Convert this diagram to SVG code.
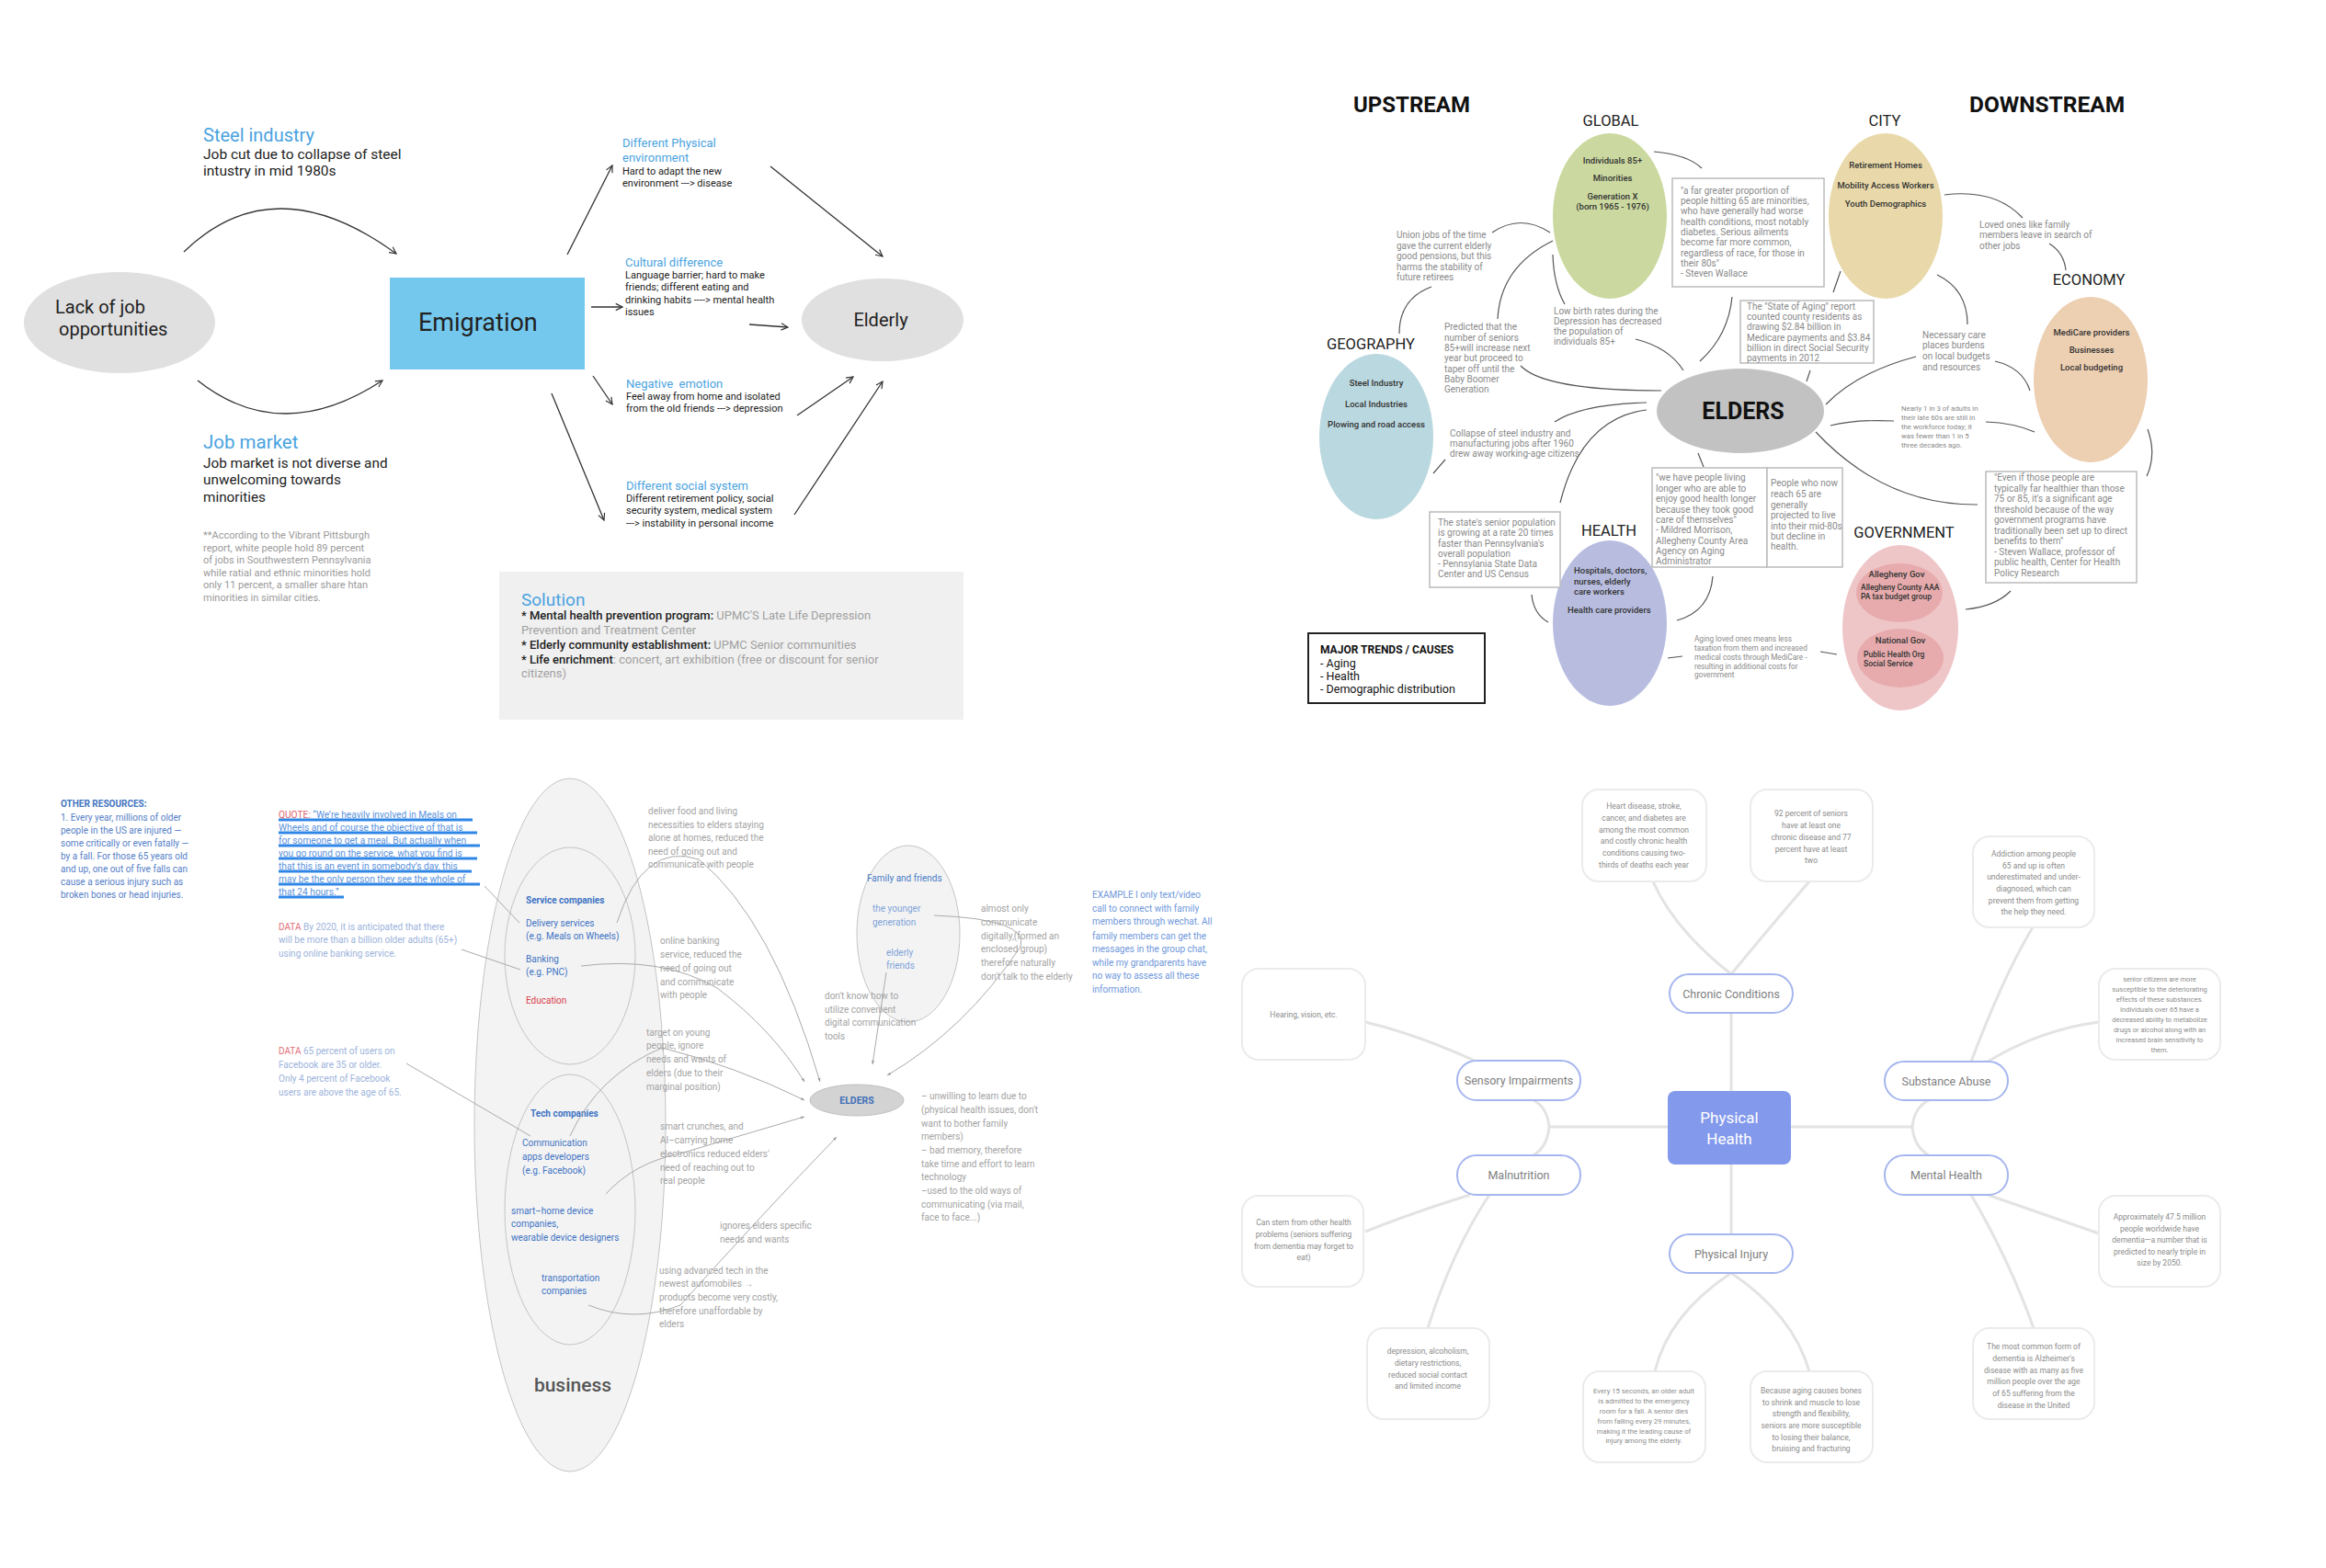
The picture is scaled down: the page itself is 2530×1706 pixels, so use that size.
<svg xmlns="http://www.w3.org/2000/svg" width="2530" height="1706" viewBox="0 0 2530 1706">
<defs>
<style>
text{font-family:Roboto,'Liberation Sans',sans-serif;}
.blk{fill:#222}
.ttl{fill:#4aa3df}
.gr{fill:#9a9a9a}
.q{fill:#8a8a8a;font-size:10px}
.qs{fill:#8a8a8a;font-size:7.8px}
.lab{fill:#222;font-size:16.5px;text-anchor:middle}
.in{fill:#333;font-size:9.5px;font-weight:500;text-anchor:middle}
.cn{fill:none;stroke:#555;stroke-width:1.2}
.ar{fill:none;stroke:#333;stroke-width:1.3;marker-end:url(#ah)}
.bl{fill:none;stroke:#aaa;stroke-width:1}
.bla{fill:none;stroke:#aaa;stroke-width:1;marker-end:url(#ahs)}
.mm{fill:none;stroke:#e3e3e3;stroke-width:3}
.node{fill:#fff;stroke:#a5b6ef;stroke-width:2}
.leaf{fill:#fff;stroke:#ebebeb;stroke-width:2}
.nl{fill:#808080;font-size:12.5px;text-anchor:middle}
.ll{fill:#8c8c8c;font-size:8.5px;text-anchor:middle}
.ls{fill:#8c8c8c;font-size:7.7px;text-anchor:middle}
.bt{fill:#a3a3a3;font-size:10px}
.bb{fill:#3f73c4;font-size:10px}
.lb{fill:#7fa3d9;font-size:10px}
.box{fill:#fff;stroke:#bbb;stroke-width:1.5}
.bz{fill:none;stroke:#c4c4c4;stroke-width:1}
</style>
<marker id="ah" viewBox="0 0 10 10" refX="9" refY="5" markerWidth="7" markerHeight="7" orient="auto"><path d="M1,1 L9,5 L1,9" fill="none" stroke="#333" stroke-width="1.3"/></marker>
<marker id="ahs" viewBox="0 0 10 10" refX="9" refY="5" markerWidth="5" markerHeight="5" orient="auto"><path d="M1,2 L9,5 L1,8 Z" fill="#999"/></marker>
</defs>
<rect width="2530" height="1706" fill="#fff"/>

<!-- ================= TOP-LEFT ================= -->
<g id="lack-of-job">
<ellipse cx="130" cy="351" rx="104" ry="55" fill="#e0e0e0"/>
<text class="blk" font-size="20"><tspan x="60" y="341">Lack of job</tspan><tspan x="64" y="365">opportunities</tspan></text>
</g>
<g id="emigration">
<rect x="424" y="302" width="212" height="100" fill="#74c8ee"/>
<text x="455" y="360" font-size="27" class="blk">Emigration</text>
</g>
<g id="elderly">
<ellipse cx="960" cy="348" rx="88" ry="45" fill="#e0e0e0"/>
<text x="958" y="355" font-size="20" text-anchor="middle" class="blk">Elderly</text>
</g>
<g id="steel-industry">
<text x="221" y="154" font-size="20" class="ttl">Steel industry</text>
<text class="blk" font-size="15.5"><tspan x="221" y="173">Job cut due to collapse of steel</tspan><tspan x="221" y="191">intustry in mid 1980s</tspan></text>
</g>
<g id="job-market">
<text x="221" y="488" font-size="20.5" class="ttl">Job market</text>
<text class="blk" font-size="15.3"><tspan x="221" y="509">Job market is not diverse and</tspan><tspan x="221" y="527">unwelcoming towards</tspan><tspan x="221" y="546">minorities</tspan></text>
<text class="gr" font-size="11"><tspan x="221" y="586">**According to the Vibrant Pittsburgh</tspan><tspan x="221" y="599.5">report, white people hold 89 percent</tspan><tspan x="221" y="613">of jobs in Southwestern Pennsylvania</tspan><tspan x="221" y="626.5">while ratial and ethnic minorities hold</tspan><tspan x="221" y="640">only 11 percent, a smaller share htan</tspan><tspan x="221" y="653.5">minorities in similar cities.</tspan></text>
</g>
<g id="physical-environment">
<text class="ttl" font-size="13"><tspan x="677" y="160">Different Physical</tspan><tspan x="677" y="176">environment</tspan></text>
<text class="blk" font-size="11"><tspan x="677" y="190">Hard to adapt the new</tspan><tspan x="677" y="203">environment ---&gt; disease</tspan></text>
</g>
<g id="cultural-difference">
<text x="680" y="290" class="ttl" font-size="13">Cultural difference</text>
<text class="blk" font-size="11"><tspan x="680" y="303">Language barrier; hard to make</tspan><tspan x="680" y="316">friends; different eating and</tspan><tspan x="680" y="330">drinking habits ----&gt; mental health</tspan><tspan x="680" y="343">issues</tspan></text>
</g>
<g id="negative-emotion">
<text x="681" y="422" class="ttl" font-size="13" xml:space="preserve">Negative  emotion</text>
<text class="blk" font-size="11"><tspan x="681" y="435">Feel away from home and isolated</tspan><tspan x="681" y="448">from the old friends ---&gt; depression</tspan></text>
</g>
<g id="social-system">
<text x="681" y="533" class="ttl" font-size="13">Different social system</text>
<text class="blk" font-size="11"><tspan x="681" y="546">Different retirement policy, social</tspan><tspan x="681" y="559">security system, medical system</tspan><tspan x="681" y="573">---&gt; instability in personal income</tspan></text>
</g>
<g id="solution">
<rect x="543" y="622" width="505" height="161" fill="#f0f0f0"/>
<text x="567" y="659" class="ttl" font-size="19">Solution</text>
<text font-size="13"><tspan x="567" y="674" fill="#222" font-weight="500">* Mental health prevention program: </tspan><tspan fill="#a0a0a0">UPMC'S Late Life Depression</tspan><tspan x="567" y="690" fill="#a0a0a0">Prevention and Treatment Center</tspan><tspan x="567" y="706" fill="#222" font-weight="500">* Elderly community establishment: </tspan><tspan fill="#a0a0a0">UPMC Senior communities</tspan><tspan x="567" y="722" fill="#222" font-weight="500">* Life enrichment</tspan><tspan fill="#a0a0a0">: concert, art exhibition (free or discount for senior</tspan><tspan x="567" y="737" fill="#a0a0a0">citizens)</tspan></text>
</g>
<g id="connectors-top-left">
<path class="ar" d="M200,274 Q298,179 431,276"/>
<path class="ar" d="M215,414 Q306,486 416,414"/>
<path class="ar" d="M617,277 L666,180"/>
<path class="ar" d="M838,181 L960,279"/>
<path class="ar" d="M643,334 L677,334"/>
<path class="ar" d="M815,353 L857,356"/>
<path class="ar" d="M645,409 L666,440"/>
<path class="ar" d="M867,452 L928,410"/>
<path class="ar" d="M600,428 L657,566"/>
<path class="ar" d="M864,560 L960,415"/>
</g>

<!-- ================= TOP-RIGHT ================= -->
<text x="1472" y="122" font-size="24" font-weight="bold" fill="#111">UPSTREAM</text>
<text x="2142" y="122" font-size="24.5" font-weight="bold" fill="#111">DOWNSTREAM</text>
<g id="connectors-top-right">
<path class="cn" d="M1799,165 Q1835,168 1851,183"/>
<path class="cn" d="M1623,253 Q1654,232 1686,253"/>
<path class="cn" d="M1557,312 Q1522,325 1522,363"/>
<path class="cn" d="M1629,347 Q1632,290 1689,262"/>
<path class="cn" d="M1702,331 Q1690,310 1689,277"/>
<path class="cn" d="M1654,398 Q1680,425 1807,425"/>
<path class="cn" d="M1779,369 Q1815,378 1831,403"/>
<path class="cn" d="M1884,323 Q1880,365 1849,393"/>
<path class="cn" d="M1969,403 L1965,415"/>
<path class="cn" d="M1691,459 Q1720,440 1791,438"/>
<path class="cn" d="M1791,446 Q1720,455 1697,547"/>
<path class="cn" d="M1572,500 L1559,515"/>
<path class="cn" d="M1666,647 Q1668,668 1684,677"/>
<path class="cn" d="M1847,493 L1853,508"/>
<path class="cn" d="M1863,627 Q1860,665 1824,675"/>
<path class="cn" d="M1830,714 L1814,716"/>
<path class="cn" d="M1980,709 L1998,712"/>
<path class="cn" d="M2187,643 Q2170,660 2138,663"/>
<path class="cn" d="M1975,470 Q2050,550 2151,549"/>
<path class="cn" d="M2336,467 Q2346,495 2335,518"/>
<path class="cn" d="M2115,212 Q2170,205 2200,237"/>
<path class="cn" d="M2229,265 Q2245,275 2247,294"/>
<path class="cn" d="M2107,299 Q2140,315 2140,353"/>
<path class="cn" d="M2084,388 Q2020,405 1986,440"/>
<path class="cn" d="M2170,393 Q2200,400 2208,425"/>
<path class="cn" d="M1991,463 Q2020,456 2060,458"/>
<path class="cn" d="M2160,459 Q2190,460 2213,470"/>
<path class="cn" d="M2002,295 L1994,318"/>
</g>
<g id="global">
<text x="1752" y="137" class="lab">GLOBAL</text>
<ellipse cx="1751" cy="235" rx="62" ry="90" fill="#cbd9a0"/>
<text class="in"><tspan x="1754" y="178">Individuals 85+</tspan><tspan x="1754" y="197">Minorities</tspan><tspan x="1754" y="217">Generation X</tspan><tspan x="1754" y="228">(born 1965 - 1976)</tspan></text>
</g>
<g id="city">
<text x="2050" y="137" class="lab">CITY</text>
<ellipse cx="2051" cy="235" rx="62" ry="90" fill="#e9d9aa"/>
<text class="in"><tspan x="2051" y="183">Retirement Homes</tspan><tspan x="2051" y="205">Mobility Access Workers</tspan><tspan x="2051" y="225">Youth Demographics</tspan></text>
</g>
<g id="economy">
<text x="2272" y="310" class="lab">ECONOMY</text>
<ellipse cx="2274" cy="413" rx="62" ry="90" fill="#edcfb2"/>
<text class="in"><tspan x="2275" y="365">MediCare providers</tspan><tspan x="2275" y="384">Businesses</tspan><tspan x="2275" y="403">Local budgeting</tspan></text>
</g>
<g id="geography">
<text x="1491" y="380" class="lab">GEOGRAPHY</text>
<ellipse cx="1497" cy="475" rx="62" ry="90" fill="#bad8df"/>
<text class="in"><tspan x="1497" y="420">Steel Industry</tspan><tspan x="1497" y="443">Local Industries</tspan><tspan x="1497" y="465">Plowing and road access</tspan></text>
</g>
<g id="health">
<text x="1750" y="583" class="lab">HEALTH</text>
<ellipse cx="1751" cy="678" rx="62" ry="90" fill="#b8bde0"/>
<text class="in" text-anchor="start" style="text-anchor:start"><tspan x="1712" y="624">Hospitals, doctors,</tspan><tspan x="1712" y="635.5">nurses, elderly</tspan><tspan x="1712" y="647">care workers</tspan><tspan x="1705" y="667">Health care providers</tspan></text>
</g>
<g id="government">
<text x="2071" y="585" class="lab">GOVERNMENT</text>
<ellipse cx="2067" cy="683" rx="63" ry="90" fill="#efc6c8"/>
<ellipse cx="2066" cy="645" rx="47" ry="32" fill="#e7abad"/>
<ellipse cx="2067" cy="716" rx="47" ry="32" fill="#e7abad"/>
<text x="2063" y="628" class="in" font-size="10">Allegheny Gov</text>
<text fill="#333" font-size="8.5" font-weight="500"><tspan x="2024" y="642">Allegheny County AAA</tspan><tspan x="2024" y="652">PA tax budget group</tspan></text>
<text x="2067" y="700" class="in" font-size="10">National Gov</text>
<text fill="#333" font-size="8.5" font-weight="500"><tspan x="2027" y="715">Public Health Org</tspan><tspan x="2027" y="725">Social Service</tspan></text>
</g>
<g id="elders-main">
<ellipse cx="1893" cy="447" rx="91" ry="46" fill="#c2c2c2"/>
<text x="1896" y="456" font-size="25" font-weight="bold" fill="#111" text-anchor="middle">ELDERS</text>
</g>
<g id="quote-wallace">
<rect class="box" x="1819" y="194" width="165" height="118"/>
<text class="q"><tspan x="1828" y="211">"a far greater proportion of</tspan><tspan x="1828" y="222">people hitting 65 are minorities,</tspan><tspan x="1828" y="233">who have generally had worse</tspan><tspan x="1828" y="244.5">health conditions, most notably</tspan><tspan x="1828" y="256">diabetes. Serious ailments</tspan><tspan x="1828" y="267">become far more common,</tspan><tspan x="1828" y="278.5">regardless of race, for those in</tspan><tspan x="1828" y="289.5">their 80s"</tspan><tspan x="1828" y="301">- Steven Wallace</tspan></text>
</g>
<g id="state-of-aging">
<rect class="box" x="1893" y="327" width="145" height="68"/>
<text class="q"><tspan x="1900" y="337">The "State of Aging" report</tspan><tspan x="1900" y="348">counted county residents as</tspan><tspan x="1900" y="359">drawing $2.84 billion in</tspan><tspan x="1900" y="371">Medicare payments and $3.84</tspan><tspan x="1900" y="382">billion in direct Social Security</tspan><tspan x="1900" y="393">payments in 2012</tspan></text>
</g>
<g id="senior-population">
<rect class="box" x="1555" y="557" width="142" height="82"/>
<text class="q"><tspan x="1564" y="572">The state's senior population</tspan><tspan x="1564" y="583">is growing at a rate 20 times</tspan><tspan x="1564" y="594.5">faster than Pennsylvania's</tspan><tspan x="1564" y="605.5">overall population</tspan><tspan x="1564" y="617">- Pennsylania State Data</tspan><tspan x="1564" y="628">Center and US Census</tspan></text>
</g>
<g id="quote-morrison">
<rect class="box" x="1797" y="509" width="125" height="108"/>
<text class="q"><tspan x="1801" y="523">"we have people living</tspan><tspan x="1801" y="534.5">longer who are able to</tspan><tspan x="1801" y="546">enjoy good health longer</tspan><tspan x="1801" y="557.5">because they took good</tspan><tspan x="1801" y="569">care of themselves"</tspan><tspan x="1801" y="580">- Mildred Morrison,</tspan><tspan x="1801" y="591.5">Allegheny County Area</tspan><tspan x="1801" y="603">Agency on Aging</tspan><tspan x="1801" y="614">Administrator</tspan></text>
</g>
<g id="people-65">
<rect class="box" x="1922" y="509" width="82" height="108"/>
<text class="q"><tspan x="1926" y="529">People who now</tspan><tspan x="1926" y="541">reach 65 are</tspan><tspan x="1926" y="553">generally</tspan><tspan x="1926" y="564">projected to live</tspan><tspan x="1926" y="576">into their mid-80s</tspan><tspan x="1926" y="587">but decline in</tspan><tspan x="1926" y="598">health.</tspan></text>
</g>
<g id="quote-wallace-2">
<rect class="box" x="2160" y="513" width="164" height="121"/>
<text class="q"><tspan x="2169" y="523">"Even if those people are</tspan><tspan x="2169" y="534.5">typically far healthier than those</tspan><tspan x="2169" y="546">75 or 85, it's a significant age</tspan><tspan x="2169" y="557.5">threshold because of the way</tspan><tspan x="2169" y="569">government programs have</tspan><tspan x="2169" y="580.5">traditionally been set up to direct</tspan><tspan x="2169" y="592">benefits to them"</tspan><tspan x="2169" y="603.5">- Steven Wallace, professor of</tspan><tspan x="2169" y="615">public health, Center for Health</tspan><tspan x="2169" y="626.5">Policy Research</tspan></text>
</g>
<g id="notes-top-right">
<text class="q"><tspan x="1519" y="259">Union jobs of the time</tspan><tspan x="1519" y="271">gave the current elderly</tspan><tspan x="1519" y="282">good pensions, but this</tspan><tspan x="1519" y="294">harms the stability of</tspan><tspan x="1519" y="305">future retirees</tspan></text>
<text class="q"><tspan x="1571" y="359">Predicted that the</tspan><tspan x="1571" y="371">number of seniors</tspan><tspan x="1571" y="382">85+will increase next</tspan><tspan x="1571" y="393">year but proceed to</tspan><tspan x="1571" y="405">taper off until the</tspan><tspan x="1571" y="416">Baby Boomer</tspan><tspan x="1571" y="427">Generation</tspan></text>
<text class="q"><tspan x="1690" y="342">Low birth rates during the</tspan><tspan x="1690" y="353">Depression has decreased</tspan><tspan x="1690" y="364">the population of</tspan><tspan x="1690" y="375">individuals 85+</tspan></text>
<text class="q"><tspan x="1577" y="475">Collapse of steel industry and</tspan><tspan x="1577" y="486">manufacturing jobs after 1960</tspan><tspan x="1577" y="497">drew away working-age citizens</tspan></text>
<text class="q"><tspan x="2153" y="248">Loved ones like family</tspan><tspan x="2153" y="259">members leave in search of</tspan><tspan x="2153" y="271">other jobs</tspan></text>
<text class="q"><tspan x="2091" y="368">Necessary care</tspan><tspan x="2091" y="379">places burdens</tspan><tspan x="2091" y="391">on local budgets</tspan><tspan x="2091" y="403">and resources</tspan></text>
<text class="qs" font-size="7.5"><tspan x="2068" y="447">Nearly 1 in 3 of adults in</tspan><tspan x="2068" y="456.5">their late 60s are still in</tspan><tspan x="2068" y="466.5">the workforce today; it</tspan><tspan x="2068" y="476.5">was fewer than 1 in 5</tspan><tspan x="2068" y="486.5">three decades ago.</tspan></text>
<text class="qs" style="font-size:8.2px"><tspan x="1843" y="698">Aging loved ones means less</tspan><tspan x="1843" y="708">taxation from them and increased</tspan><tspan x="1843" y="718">medical costs through MediCare -</tspan><tspan x="1843" y="727.5">resulting in additional costs for</tspan><tspan x="1843" y="737">government</tspan></text>
</g>
<g id="major-trends">
<rect x="1423" y="689" width="192" height="76" fill="#fff" stroke="#222" stroke-width="2"/>
<text x="1436" y="711" font-size="12" font-weight="bold" fill="#111">MAJOR TRENDS / CAUSES</text>
<text font-size="12.5" fill="#111"><tspan x="1436" y="725.5">- Aging</tspan><tspan x="1436" y="739.5">- Health</tspan><tspan x="1436" y="754">- Demographic distribution</tspan></text>
</g>

<!-- ================= BOTTOM-LEFT ================= -->
<g id="other-resources">
<text x="66" y="878" font-size="10" font-weight="bold" fill="#4274c0">OTHER RESOURCES:</text>
<text font-size="10" fill="#5580c8"><tspan x="66" y="893">1. Every year, millions of older</tspan><tspan x="66" y="907">people in the US are injured —</tspan><tspan x="66" y="921">some critically or even fatally —</tspan><tspan x="66" y="935">by a fall. For those 65 years old</tspan><tspan x="66" y="949">and up, one out of five falls can</tspan><tspan x="66" y="963">cause a serious injury such as</tspan><tspan x="66" y="977">broken bones or head injuries.</tspan></text>
</g>
<g id="quote-meals">
<g stroke="#2f86e6" stroke-width="3">
<line x1="303" y1="892" x2="514" y2="892"/><line x1="303" y1="906" x2="519" y2="906"/><line x1="303" y1="920" x2="522" y2="920"/><line x1="303" y1="934" x2="519" y2="934"/><line x1="303" y1="948" x2="513" y2="948"/><line x1="303" y1="962" x2="522" y2="962"/><line x1="303" y1="976" x2="374" y2="976"/>
</g>
<text font-size="10.2" fill="#5b93dd"><tspan x="303" y="890" fill="#e0606a">QUOTE: </tspan><tspan>“We’re heavily involved in Meals on</tspan><tspan x="303" y="904">Wheels and of course the objective of that is</tspan><tspan x="303" y="918">for someone to get a meal. But actually when</tspan><tspan x="303" y="932">you go round on the service, what you find is</tspan><tspan x="303" y="946">that this is an event in somebody’s day, this</tspan><tspan x="303" y="960">may be the only person they see the whole of</tspan><tspan x="303" y="974">that 24 hours.”</tspan></text>
</g>
<g id="data-banking">
<text font-size="10" fill="#9db3dc"><tspan x="303" y="1012" fill="#e07078">DATA</tspan><tspan> By 2020, it is anticipated that there</tspan><tspan x="303" y="1026">will be more than a billion older adults (65+)</tspan><tspan x="303" y="1041">using online banking service.</tspan></text>
</g>
<g id="data-facebook">
<text font-size="10" fill="#9db3dc"><tspan x="303" y="1147" fill="#e07078">DATA</tspan><tspan> 65 percent of users on</tspan><tspan x="303" y="1162">Facebook are 35 or older.</tspan><tspan x="303" y="1177">Only 4 percent of Facebook</tspan><tspan x="303" y="1192">users are above the age of 65.</tspan></text>
</g>
<g id="business">
<ellipse cx="620" cy="1224" rx="104" ry="377" fill="#f3f3f3" stroke="#c4c4c4" stroke-width="1"/>
<text x="623" y="1514" font-size="21" font-weight="500" fill="#555" text-anchor="middle">business</text>
</g>
<g id="service-companies">
<ellipse class="bz" cx="620" cy="1040" rx="71" ry="118"/>
<text x="572" y="983" class="bb" font-weight="bold">Service companies</text>
<text class="bb"><tspan x="572" y="1008">Delivery services</tspan><tspan x="572" y="1022">(e.g. Meals on Wheels)</tspan><tspan x="572" y="1047">Banking</tspan><tspan x="572" y="1061">(e.g. PNC)</tspan></text>
<text x="572" y="1092" font-size="10" fill="#d9404c">Education</text>
</g>
<g id="tech-companies">
<ellipse class="bz" cx="620" cy="1316" rx="71" ry="147"/>
<text x="577" y="1215" class="bb" font-weight="bold">Tech companies</text>
<text class="bb"><tspan x="568" y="1247">Communication</tspan><tspan x="568" y="1262">apps developers</tspan><tspan x="568" y="1277">(e.g. Facebook)</tspan><tspan x="556" y="1321">smart–home device</tspan><tspan x="556" y="1335">companies,</tspan><tspan x="556" y="1350">wearable device designers</tspan><tspan x="589" y="1394">transportation</tspan><tspan x="589" y="1408">companies</tspan></text>
</g>
<g id="family-friends">
<ellipse cx="988" cy="1016" rx="56" ry="96" fill="#f3f3f3" stroke="#c4c4c4" stroke-width="1"/>
<text x="943" y="959" font-size="10" fill="#4a7cc8">Family and friends</text>
<text class="lb"><tspan x="949" y="992">the younger</tspan><tspan x="949" y="1007">generation</tspan><tspan x="964" y="1040">elderly</tspan><tspan x="964" y="1054">friends</tspan></text>
</g>
<g id="elders-small">
<ellipse cx="932" cy="1197" rx="51" ry="17" fill="#d3d3d3" stroke="#c0c0c0" stroke-width="1"/>
<text x="932" y="1201" font-size="10.5" font-weight="bold" fill="#3f6fb8" text-anchor="middle">ELDERS</text>
</g>
<g id="connectors-bottom-left">
<path class="bl" d="M527,964 L565,1004"/>
<path class="bl" d="M502,1033 L566,1055"/>
<path class="bl" d="M442,1157 L577,1236"/>
<path class="bla" d="M671,1004 Q700,915 760,935 Q840,1000 892,1177"/>
<path class="bla" d="M632,1051 Q720,1040 780,1075 Q840,1120 875,1177"/>
<path class="bla" d="M620,1236 Q650,1170 720,1140 Q800,1160 875,1197"/>
<path class="bla" d="M659,1299 Q690,1265 740,1255 L875,1215"/>
<path class="bla" d="M640,1420 Q690,1440 740,1420 Q830,1320 910,1237"/>
<path class="bla" d="M964,1058 L949,1158"/>
<path class="bla" d="M1016,996 Q1120,1000 1110,1030 Q1050,1120 965,1170"/>
</g>
<g id="notes-bottom-left">
<text class="bt"><tspan x="705" y="886">deliver food and living</tspan><tspan x="705" y="900.5">necessities to elders staying</tspan><tspan x="705" y="915">alone at homes, reduced the</tspan><tspan x="705" y="929.5">need of going out and</tspan><tspan x="705" y="944">communicate with people</tspan></text>
<text class="bt"><tspan x="718" y="1027">online banking</tspan><tspan x="718" y="1042">service, reduced the</tspan><tspan x="718" y="1057">need of going out</tspan><tspan x="718" y="1072">and communicate</tspan><tspan x="718" y="1086">with people</tspan></text>
<text class="bt"><tspan x="703" y="1127">target on young</tspan><tspan x="703" y="1141">people, ignore</tspan><tspan x="703" y="1156">needs and wants of</tspan><tspan x="703" y="1171">elders (due to their</tspan><tspan x="703" y="1186">marginal position)</tspan></text>
<text class="bt"><tspan x="718" y="1229">smart crunches, and</tspan><tspan x="718" y="1244">AI–carrying home</tspan><tspan x="718" y="1259">electronics reduced elders'</tspan><tspan x="718" y="1274">need of reaching out to</tspan><tspan x="718" y="1288">real people</tspan></text>
<text class="bt"><tspan x="783" y="1337">ignores elders specific</tspan><tspan x="783" y="1352">needs and wants</tspan></text>
<text class="bt"><tspan x="717" y="1386">using advanced tech in the</tspan><tspan x="717" y="1400">newest automobiles →</tspan><tspan x="717" y="1415">products become very costly,</tspan><tspan x="717" y="1430">therefore unaffordable by</tspan><tspan x="717" y="1444">elders</tspan></text>
<text class="bt"><tspan x="897" y="1087">don't know how to</tspan><tspan x="897" y="1101.5">utilize convenient</tspan><tspan x="897" y="1116">digital communication</tspan><tspan x="897" y="1131">tools</tspan></text>
<text class="bt"><tspan x="1067" y="992">almost only</tspan><tspan x="1067" y="1007">communicate</tspan><tspan x="1067" y="1022">digitally,(formed an</tspan><tspan x="1067" y="1036">enclosed group)</tspan><tspan x="1067" y="1051">therefore naturally</tspan><tspan x="1067" y="1066">don't talk to the elderly</tspan></text>
<text class="lb" style="fill:#6f98dc"><tspan x="1188" y="977">EXAMPLE I only text/video</tspan><tspan x="1188" y="992">call to connect with family</tspan><tspan x="1188" y="1006">members through wechat. All</tspan><tspan x="1188" y="1022">family members can get the</tspan><tspan x="1188" y="1036">messages in the group chat,</tspan><tspan x="1188" y="1051">while my grandparents have</tspan><tspan x="1188" y="1065">no way to assess all these</tspan><tspan x="1188" y="1080">information.</tspan></text>
<text class="bt"><tspan x="1002" y="1196">– unwilling to learn due to</tspan><tspan x="1002" y="1211">(physical health issues, don't</tspan><tspan x="1002" y="1226">want to bother family</tspan><tspan x="1002" y="1240">members)</tspan><tspan x="1002" y="1255">– bad memory, therefore</tspan><tspan x="1002" y="1270">take time and effort to learn</tspan><tspan x="1002" y="1284">technology</tspan><tspan x="1002" y="1299">–used to the old ways of</tspan><tspan x="1002" y="1314">communicating (via mail,</tspan><tspan x="1002" y="1328">face to face...)</tspan></text>
</g>

<!-- ================= BOTTOM-RIGHT ================= -->
<g id="connectors-mindmap">
<path class="mm" d="M1883,1102 L1883,1187"/>
<path class="mm" d="M1883,1267 L1883,1343"/>
<path class="mm" d="M1814,1226 L1685,1226"/>
<path class="mm" d="M1685,1226 Q1683,1205 1668,1197"/>
<path class="mm" d="M1685,1226 Q1683,1248 1668,1257"/>
<path class="mm" d="M1948,1226 L2080,1226"/>
<path class="mm" d="M2080,1226 Q2082,1205 2098,1197"/>
<path class="mm" d="M2080,1226 Q2082,1248 2098,1257"/>
<path class="mm" d="M1883,1060 Q1820,1010 1798,959"/>
<path class="mm" d="M1883,1060 Q1924,1010 1968,959"/>
<path class="mm" d="M1604,1154 Q1540,1125 1485,1112"/>
<path class="mm" d="M2144,1155 Q2180,1060 2211,1009"/>
<path class="mm" d="M2162,1155 Q2220,1120 2283,1112"/>
<path class="mm" d="M1599,1300 Q1540,1318 1485,1340"/>
<path class="mm" d="M1620,1300 Q1580,1360 1553,1445"/>
<path class="mm" d="M1883,1385 Q1815,1430 1800,1492"/>
<path class="mm" d="M1883,1385 Q1950,1430 1968,1492"/>
<path class="mm" d="M2162,1300 Q2220,1320 2283,1342"/>
<path class="mm" d="M2144,1300 Q2185,1370 2212,1445"/>
</g>
<g id="physical-health">
<rect x="1814" y="1187" width="134" height="80" rx="8" fill="#8399ec"/>
<text font-size="17" fill="#fff" text-anchor="middle"><tspan x="1881" y="1222">Physical</tspan><tspan x="1881" y="1245">Health</tspan></text>
</g>
<g id="chronic-conditions"><rect class="node" x="1816" y="1060" width="134" height="42" rx="21"/><text class="nl" x="1883" y="1086">Chronic Conditions</text></g>
<g id="sensory-impairments"><rect class="node" x="1585" y="1154" width="134" height="43" rx="21"/><text class="nl" x="1652" y="1180">Sensory Impairments</text></g>
<g id="substance-abuse"><rect class="node" x="2050" y="1155" width="134" height="42" rx="21"/><text class="nl" x="2117" y="1181">Substance Abuse</text></g>
<g id="malnutrition"><rect class="node" x="1585" y="1257" width="134" height="43" rx="21"/><text class="nl" x="1652" y="1283">Malnutrition</text></g>
<g id="mental-health"><rect class="node" x="2050" y="1257" width="134" height="43" rx="21"/><text class="nl" x="2117" y="1283">Mental Health</text></g>
<g id="physical-injury"><rect class="node" x="1816" y="1343" width="134" height="42" rx="21"/><text class="nl" x="1883" y="1369">Physical Injury</text></g>
<g id="leaf-heart-disease"><rect class="leaf" x="1721" y="859" width="135" height="100" rx="18"/><text class="ll"><tspan x="1788" y="880">Heart disease, stroke,</tspan><tspan x="1788" y="893">cancer, and diabetes are</tspan><tspan x="1788" y="905.5">among the most common</tspan><tspan x="1788" y="918">and costly chronic health</tspan><tspan x="1788" y="931">conditions causing two-</tspan><tspan x="1788" y="943.5">thirds of deaths each year</tspan></text></g>
<g id="leaf-92-percent"><rect class="leaf" x="1904" y="859" width="133" height="100" rx="18"/><text class="ll"><tspan x="1970" y="888">92 percent of seniors</tspan><tspan x="1970" y="901">have at least one</tspan><tspan x="1970" y="914">chronic disease and 77</tspan><tspan x="1970" y="926.5">percent have at least</tspan><tspan x="1970" y="939">two</tspan></text></g>
<g id="leaf-hearing"><rect class="leaf" x="1351" y="1054" width="134" height="99" rx="18"/><text class="ll" x="1418" y="1107">Hearing, vision, etc.</text></g>
<g id="leaf-addiction"><rect class="leaf" x="2146" y="910" width="132" height="99" rx="18"/><text class="ll"><tspan x="2212" y="932">Addiction among people</tspan><tspan x="2212" y="944.5">65 and up is often</tspan><tspan x="2212" y="957">underestimated and under-</tspan><tspan x="2212" y="970">diagnosed, which can</tspan><tspan x="2212" y="982.5">prevent them from getting</tspan><tspan x="2212" y="995">the help they need.</tspan></text></g>
<g id="leaf-substances"><rect class="leaf" x="2283" y="1054" width="132" height="99" rx="18"/><text class="ls" style="font-size:7.5px"><tspan x="2349" y="1068">senior citizens are more</tspan><tspan x="2349" y="1079">susceptible to the deteriorating</tspan><tspan x="2349" y="1090">effects of these substances.</tspan><tspan x="2349" y="1101">Individuals over 65 have a</tspan><tspan x="2349" y="1112">decreased ability to metabolize</tspan><tspan x="2349" y="1123">drugs or alcohol along with an</tspan><tspan x="2349" y="1134">increased brain sensitivity to</tspan><tspan x="2349" y="1145">them.</tspan></text></g>
<g id="leaf-stem"><rect class="leaf" x="1351" y="1301" width="132" height="99" rx="18"/><text class="ll"><tspan x="1418" y="1333">Can stem from other health</tspan><tspan x="1418" y="1346">problems (seniors suffering</tspan><tspan x="1418" y="1359">from dementia may forget to</tspan><tspan x="1418" y="1371">eat)</tspan></text></g>
<g id="leaf-depression"><rect class="leaf" x="1487" y="1445" width="133" height="99" rx="18"/><text class="ll"><tspan x="1553" y="1473">depression, alcoholism,</tspan><tspan x="1553" y="1486">dietary restrictions,</tspan><tspan x="1553" y="1499">reduced social contact</tspan><tspan x="1553" y="1511">and limited income</tspan></text></g>
<g id="leaf-15-seconds"><rect class="leaf" x="1722" y="1492" width="133" height="99" rx="18"/><text class="ls"><tspan x="1788" y="1516">Every 15 seconds, an older adult</tspan><tspan x="1788" y="1527">is admitted to the emergency</tspan><tspan x="1788" y="1538">room for a fall. A senior dies</tspan><tspan x="1788" y="1549">from falling every 29 minutes,</tspan><tspan x="1788" y="1559.5">making it the leading cause of</tspan><tspan x="1788" y="1570">injury among the elderly.</tspan></text></g>
<g id="leaf-bones"><rect class="leaf" x="1904" y="1492" width="133" height="99" rx="18"/><text class="ll"><tspan x="1970" y="1516">Because aging causes bones</tspan><tspan x="1970" y="1528.5">to shrink and muscle to lose</tspan><tspan x="1970" y="1541">strength and flexibility,</tspan><tspan x="1970" y="1554">seniors are more susceptible</tspan><tspan x="1970" y="1566.5">to losing their balance,</tspan><tspan x="1970" y="1579">bruising and fracturing</tspan></text></g>
<g id="leaf-dementia"><rect class="leaf" x="2283" y="1301" width="132" height="99" rx="18"/><text class="ll"><tspan x="2349" y="1327">Approximately 47.5 million</tspan><tspan x="2349" y="1339.5">people worldwide have</tspan><tspan x="2349" y="1352">dementia—a number that is</tspan><tspan x="2349" y="1365">predicted to nearly triple in</tspan><tspan x="2349" y="1377">size by 2050.</tspan></text></g>
<g id="leaf-alzheimers"><rect class="leaf" x="2146" y="1445" width="132" height="99" rx="18"/><text class="ll"><tspan x="2212" y="1468">The most common form of</tspan><tspan x="2212" y="1481">dementia is Alzheimer's</tspan><tspan x="2212" y="1494">disease with as many as five</tspan><tspan x="2212" y="1506">million people over the age</tspan><tspan x="2212" y="1519">of 65 suffering from the</tspan><tspan x="2212" y="1532">disease in the United</tspan></text></g>
</svg>
